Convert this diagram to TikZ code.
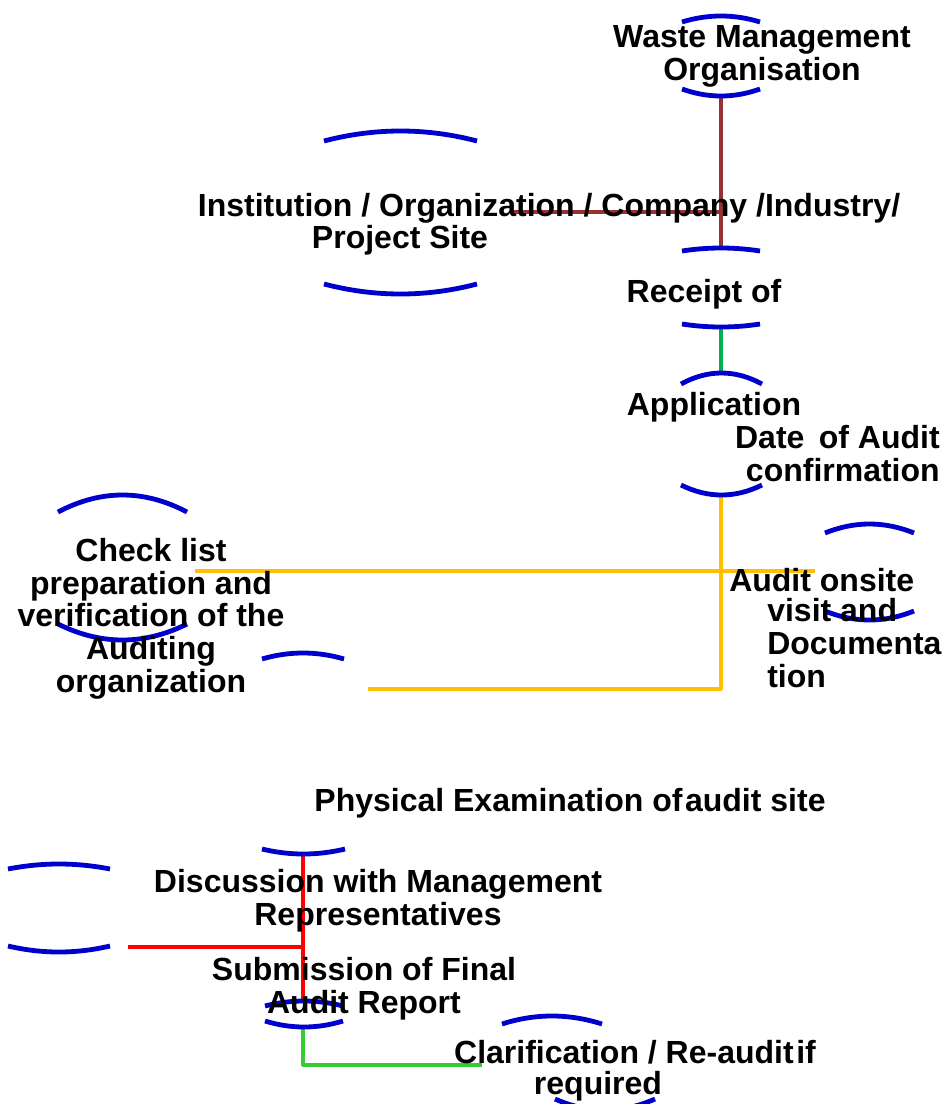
\documentclass[tikz,border=0pt]{standalone}
\usepackage{fontspec}
\setmainfont{Liberation Sans}
\definecolor{arcblue}{RGB}{0,0,204}
\definecolor{brownline}{RGB}{150,50,50}
\definecolor{greenA}{RGB}{0,176,80}
\definecolor{yellowline}{RGB}{255,192,0}
\definecolor{redline}{RGB}{255,0,0}
\definecolor{greenB}{RGB}{51,204,51}
% arc from (x1,yend) to (x2,yend) with its middle at ypeak
\newcommand\blueArc[4]{\draw[arcline] (#1,#3) .. controls ({#1+0.3333*(#2-#1)},{#3+1.3333*(#4-#3)}) and ({#2-0.3333*(#2-#1)},{#3+1.3333*(#4-#3)}) .. (#2,#3);}
\begin{document}
\begin{tikzpicture}[x=0.75pt,y=-0.75pt,
  arcline/.style={draw=arcblue, line width=3.6pt, line cap=butt},
  conn/.style={line width=2.4pt, line join=round},
  lbl/.style={font=\bfseries\fontsize{24pt}{24.4pt}\selectfont, inner sep=0pt, anchor=base},
  lblc/.style={lbl, align=center},
  lbll/.style={lbl, align=left, anchor=base west},
  lblr/.style={lbl, align=right, anchor=base east}]
\useasboundingbox[fill=white] (0,0) rectangle (952,1104);

% connector end points
\coordinate (wmB) at (721,96);
\coordinate (rcT) at (721,249);
\coordinate (inR) at (510,212);
\coordinate (inJ) at (721,212);
\coordinate (rcB) at (721,327);
\coordinate (apT) at (721,373);
\coordinate (dtB) at (721,495);
\coordinate (yC) at (721,689);
\coordinate (ckE) at (368,689);
\coordinate (ckL) at (195,571);
\coordinate (auL) at (815,571);
\coordinate (phB) at (303,854);
\coordinate (smT) at (303,1001);
\coordinate (dsJ) at (303,947);
\coordinate (lfR) at (128,947);
\coordinate (smB) at (303,1027);
\coordinate (gC) at (303,1065);
\coordinate (clL) at (482,1065);

% connectors
\draw[conn, brownline] (wmB) -- (rcT);
\draw[conn, brownline] (inR) -- (inJ);
\draw[conn, greenA] (rcB) -- (apT);
\draw[conn, yellowline] (dtB) -- (yC) -- (ckE);
\draw[conn, yellowline] (ckL) -- (auL);
\draw[conn, redline] (phB) -- (smT);
\draw[conn, redline] (lfR) -- (dsJ);
\draw[conn, greenB] (smB) -- (gC) -- (clL);

% blue arcs
\blueArc{682}{760}{22}{16}
\blueArc{682}{760}{89}{96}
\blueArc{324}{477}{141}{131}
\blueArc{324}{477}{284}{294}
\blueArc{682}{760}{251}{248}
\blueArc{682}{760}{324}{327}
\blueArc{681}{762}{384}{373}
\blueArc{681}{762}{485}{495}
\blueArc{58}{187}{512}{495}
\blueArc{58}{187}{624}{640}
\blueArc{262}{344}{659}{653}
\blueArc{825}{914}{533}{524}
\blueArc{825}{914}{611}{620}
\blueArc{262}{345}{849}{854}
\blueArc{8}{110}{869}{864}
\blueArc{8}{110}{946}{952}
\blueArc{265}{343}{1006}{1001}
\blueArc{265}{343}{1021}{1027}
\blueArc{502}{602}{1024}{1016}
\blueArc{555}{655}{1099}{1110}

% texts (anchor base = baseline of last line)
\node[lblc] (wm) at (762,80) {Waste Management\\Organisation};
\node[lbl] (in1) at (549,216) {Institution / Organization / Company /Industry/};
\node[lbl] (in2) at (400,248) {Project Site};
\node[lbl] (rc) at (704,302) {Receipt of};
\node[lbl] (ap) at (714,415) {Application};
\node[lblr] (dt) at (940,481) {Date\hspace{0.45em}of Audit\\confirmation};
\node[lblc] (ck) at (151,692) {Check list\\preparation and\\verification of the\\Auditing\\organization};
\node[lbll] (au1) at (729,591) {Audit onsite};
\node[lbll] (au2) at (767,687) {visit and\\Documenta\\tion};
\node[lbl] (ph) at (570,811) {Physical Examination of\hspace{0.08em}audit site};
\node[lblc] (ds) at (378,925) {Discussion with Management\\Representatives};
\node[lblc] (sm) at (364,1013) {Submission of Final\\Audit Report};
\node[lbl] (cl1) at (635,1063) {Clarification / Re-audit\hspace{0.08em}if};
\node[lbl] (cl2) at (598,1094) {required};
\end{tikzpicture}
\end{document}
